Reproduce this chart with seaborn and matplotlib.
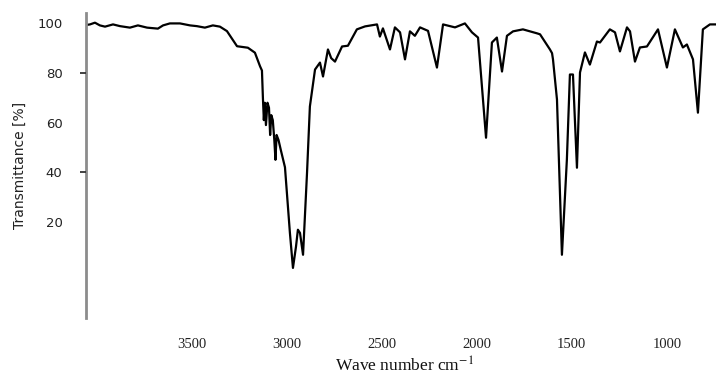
import matplotlib
matplotlib.use("Agg")
import matplotlib.pyplot as plt
import seaborn as sns
import pandas as pd

# ---- data (wave number in cm-1, transmittance in %) ----
wavenumber = [
    4050, 4033, 4007, 3981, 3954, 3912, 3875, 3823, 3781, 3733, 3676, 3649, 3613,
    3560, 3507, 3471, 3429, 3387, 3350, 3313, 3260, 3203, 3166, 3139, 3129, 3124,
    3119, 3114, 3108, 3100, 3092, 3086, 3080, 3072, 3064, 3058, 3052, 3042, 3030,
    3008, 2982, 2966, 2950, 2940, 2929, 2913, 2892, 2877, 2850, 2824, 2808, 2782,
    2765, 2745, 2708, 2677, 2630, 2587, 2524, 2509, 2493, 2456, 2430, 2403, 2377,
    2351, 2325, 2298, 2256, 2209, 2177, 2114, 2062, 2025, 1993, 1951, 1920, 1894,
    1867, 1841, 1809, 1757, 1683, 1667, 1615, 1604, 1599, 1578, 1552, 1526, 1510,
    1494, 1473, 1457, 1431, 1405, 1368, 1352, 1300, 1273, 1247, 1210, 1194, 1168,
    1142, 1105, 1047, 1000, 958, 916, 895, 863, 837, 811, 774, 742,
]
transmittance = [
    99.4, 99.6, 100.3, 99.2, 98.7, 99.6, 98.9, 98.3, 99.2, 98.3, 97.9, 99.2, 100.0,
    100.0, 99.2, 98.9, 98.3, 99.2, 98.7, 96.9, 90.8, 90.2, 88.2, 82.7, 81.0, 70.0,
    61.0, 68.0, 59.0, 68.0, 66.0, 55.0, 63.0, 61.0, 53.0, 45.0, 55.0, 53.0, 49.0,
    42.0, 15.5, 1.4, 10.0, 16.8, 15.5, 6.7, 39.8, 66.5, 81.4, 84.2, 78.6, 89.5,
    86.0, 84.6, 90.7, 91.0, 97.6, 98.8, 99.6, 94.7, 98.0, 89.5, 98.4, 96.4, 85.5,
    96.8, 95.0, 98.4, 97.0, 82.2, 99.6, 98.4, 100.0, 96.4, 94.3, 53.9, 92.3, 94.3,
    80.6, 95.0, 96.8, 97.6, 96.0, 95.6, 89.5, 88.0, 85.5, 69.3, 6.7, 45.0, 79.4,
    79.4, 41.8, 80.2, 88.3, 83.4, 92.7, 92.3, 97.6, 96.4, 88.7, 98.4, 96.8, 84.6,
    90.3, 90.7, 97.6, 82.2, 97.6, 90.3, 91.5, 85.5, 64.0, 97.6, 99.6, 99.6,
]
x_ticks = [3500, 3000, 2500, 2000, 1500, 1000]
y_ticks = [20, 40, 60, 80, 100]
y_marks = [40, 80]

df = pd.DataFrame({"wn": wavenumber, "T": transmittance})

sns.set_style("white")
plt.rcParams["font.family"] = ["DejaVu Sans"]
plt.rcParams["mathtext.fontset"] = "stix"

fig = plt.figure(figsize=(7.16, 3.77), dpi=100)
W, H = 716, 377
ax = fig.add_axes([86 / W, 1 - 318 / H, (716 - 86) / W, (318 - 13) / H])

sns.lineplot(data=df, x="wn", y="T", sort=False, estimator=None,
             color="black", linewidth=1.6, ax=ax)

ax.set_xlim(4054, 742)
ax.set_ylim(-18.8, 104.2)

for s in ["top", "right", "bottom"]:
    ax.spines[s].set_visible(False)
ax.spines["left"].set_color("#8c8c8c")
ax.spines["left"].set_linewidth(2)

ax.set_xticks(x_ticks)
ax.set_xticklabels([str(v) for v in x_ticks], family="Liberation Serif",
                   fontsize=10.5, color="#222222")
ax.tick_params(axis="x", length=0, pad=14.5)

ax.set_yticks(y_ticks)
ax.set_yticklabels([str(v) for v in y_ticks], fontsize=9.5, color="#222222")
ax.tick_params(axis="y", length=0, pad=17)

# small tick marks at 40 and 80 only (as in the reference)
ax2 = ax.twinx()
ax2.set_ylim(ax.get_ylim())
for s in ["top", "right", "bottom", "left"]:
    ax2.spines[s].set_visible(False)
ax2.set_yticks(y_marks)
ax2.tick_params(axis="y", left=True, right=False, labelleft=False,
                labelright=False, length=4, width=1.3, color="#333333",
                direction="out")

ax.set_ylabel("Transmittance [%]", fontsize=10, color="#222222")
ax.yaxis.set_label_coords(-0.094, 0.5)
ax.set_xlabel(r"Wave number cm$^{-1}$", family="Liberation Serif",
              fontsize=12.5, color="#111111")
ax.xaxis.set_label_coords(0.505, -0.125)

fig.savefig("out.png", dpi=100)
